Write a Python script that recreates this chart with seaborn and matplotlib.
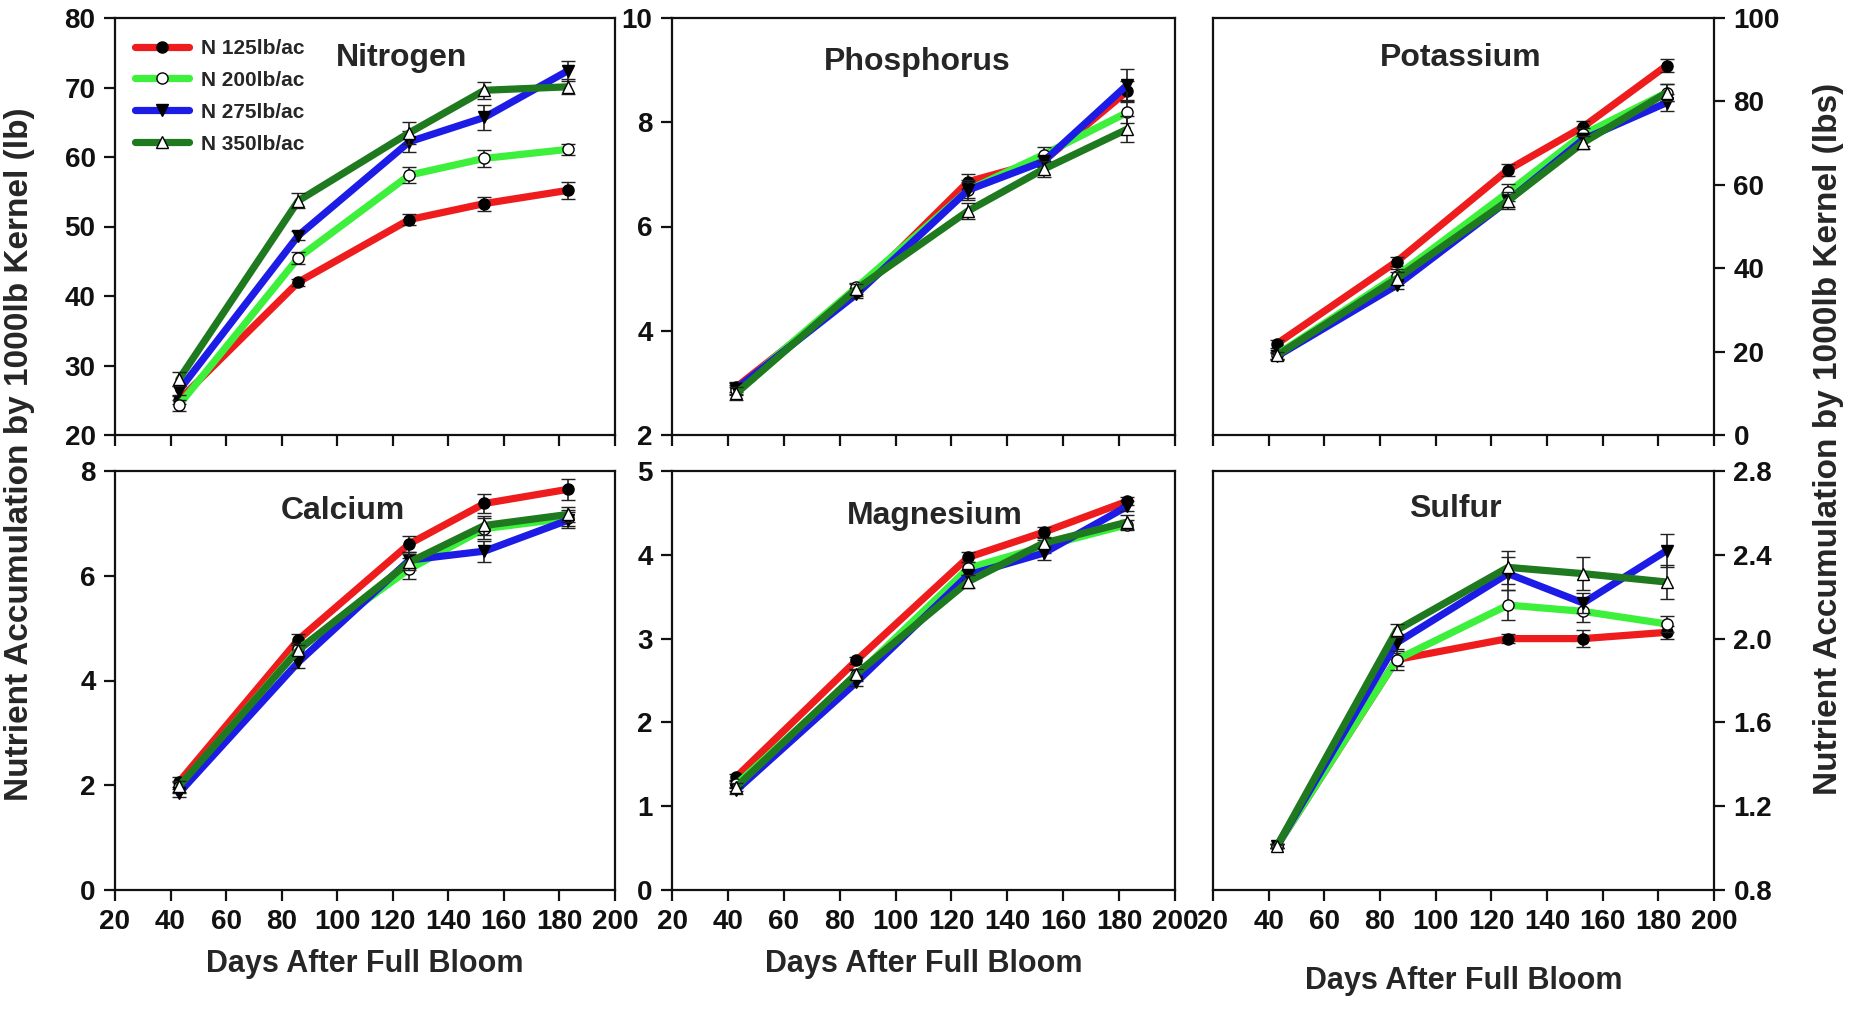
import numpy as np
import pandas as pd
import matplotlib
matplotlib.use("Agg")
import matplotlib.pyplot as plt
import seaborn as sns
from matplotlib.lines import Line2D

sns.set_style("white")
plt.rcParams['font.family'] = ['Liberation Sans', 'DejaVu Sans']
plt.rcParams['font.weight'] = 'bold'

days = [43, 86, 126, 153, 183]
rates = ['N 125lb/ac', 'N 200lb/ac', 'N 275lb/ac', 'N 350lb/ac']
colors = ['#ee1c1c', '#3cf03c', '#1c1ce6', '#1f7a1f']
markers = ['o', 'o', 'v', '^']
marker_faces = ['black', 'white', 'black', 'white']

nitrogen = [[25.0, 42.0, 51.0, 53.3, 55.2],
            [24.3, 45.5, 57.4, 59.8, 61.1],
            [26.4, 48.7, 62.2, 65.7, 72.4],
            [28.0, 53.7, 63.5, 69.6, 70.1]]
nitrogen_se = [[0.6, 0.5, 0.8, 1.0, 1.2],
               [0.8, 0.9, 1.2, 1.2, 0.8],
               [0.6, 0.7, 1.5, 1.8, 1.4],
               [1.0, 1.1, 1.6, 1.2, 1.1]]

phosphorus = [[2.92, 4.74, 6.86, 7.26, 8.60],
              [2.86, 4.83, 6.70, 7.38, 8.19],
              [2.89, 4.70, 6.70, 7.25, 8.72],
              [2.80, 4.80, 6.30, 7.10, 7.87]]
phosphorus_se = [[0.1, 0.08, 0.15, 0.10, 0.20],
                 [0.1, 0.08, 0.15, 0.15, 0.20],
                 [0.1, 0.08, 0.20, 0.10, 0.30],
                 [0.12, 0.10, 0.15, 0.15, 0.25]]

potassium = [[21.9, 41.6, 63.6, 73.9, 88.6],
             [19.3, 38.2, 58.2, 72.1, 82.1],
             [18.9, 35.9, 56.2, 70.9, 79.7],
             [19.1, 37.5, 56.2, 70.1, 82.1]]
potassium_se = [[1.0, 1.0, 1.5, 1.5, 1.5],
                [1.0, 1.5, 2.0, 1.5, 2.0],
                [0.8, 1.0, 1.5, 1.5, 2.0],
                [0.8, 1.5, 2.0, 1.5, 2.0]]

calcium = [[2.06, 4.78, 6.61, 7.38, 7.65],
           [1.96, 4.60, 6.13, 6.90, 7.10],
           [1.85, 4.35, 6.30, 6.47, 7.06],
           [1.98, 4.58, 6.26, 6.96, 7.17]]
calcium_se = [[0.10, 0.10, 0.15, 0.18, 0.20],
              [0.10, 0.12, 0.20, 0.20, 0.15],
              [0.08, 0.12, 0.15, 0.20, 0.15],
              [0.10, 0.10, 0.15, 0.18, 0.15]]

magnesium = [[1.35, 2.74, 3.97, 4.27, 4.64],
             [1.26, 2.56, 3.84, 4.10, 4.36],
             [1.19, 2.48, 3.76, 4.02, 4.58],
             [1.23, 2.58, 3.68, 4.14, 4.39]]
magnesium_se = [[0.04, 0.04, 0.06, 0.06, 0.05],
                [0.04, 0.06, 0.08, 0.08, 0.06],
                [0.04, 0.05, 0.06, 0.08, 0.06],
                [0.05, 0.06, 0.08, 0.06, 0.08]]

sulfur = [[1.01, 1.90, 2.00, 2.00, 2.03],
          [1.01, 1.90, 2.16, 2.13, 2.07],
          [1.01, 1.98, 2.31, 2.17, 2.42],
          [1.01, 2.04, 2.34, 2.31, 2.27]]
sulfur_se = [[0.01, 0.03, 0.02, 0.04, 0.03],
             [0.01, 0.05, 0.07, 0.05, 0.04],
             [0.01, 0.04, 0.08, 0.05, 0.08],
             [0.01, 0.03, 0.08, 0.08, 0.08]]

names = ['Nitrogen', 'Phosphorus', 'Potassium', 'Calcium', 'Magnesium', 'Sulfur']
means = [nitrogen, phosphorus, potassium, calcium, magnesium, sulfur]
ses = [nitrogen_se, phosphorus_se, potassium_se, calcium_se, magnesium_se, sulfur_se]
yticks = [np.arange(20, 81, 10), np.arange(2, 11, 2), np.arange(0, 101, 20),
          np.arange(0, 9, 2), np.arange(0, 6, 1), np.arange(0.8, 2.81, 0.4)]
title_pos = [(0.574, 0.905), (0.487, 0.895), (0.495, 0.905),
             (0.456, 0.905), (0.522, 0.893), (0.483, 0.91)]

W, H = 1855, 1009
fig = plt.figure(figsize=(W / 100, H / 100), dpi=100)
col_left = [115, 672, 1213]
col_w = [500, 503, 501]
row_top = [18, 471]
row_bot = [435, 890]

for k in range(6):
    r, c = k // 3, k % 3
    ax = fig.add_axes([col_left[c] / W, 1 - row_bot[r] / H,
                       col_w[c] / W, (row_bot[r] - row_top[r]) / H])
    for i in range(4):
        df = pd.DataFrame({'day': days, 'val': means[k][i]})
        sns.lineplot(data=df, x='day', y='val', color=colors[i], lw=5.2, ax=ax,
                     zorder=2 + i)
        ax.errorbar(days, means[k][i], yerr=ses[k][i], fmt=markers[i], ms=8,
                    mfc=marker_faces[i], mec='black', mew=1, ecolor='#222222',
                    elinewidth=1.2, capsize=5, capthick=1.2, zorder=2.5 + i)
    ax.set_xlim(20, 200)
    ax.set_xticks(np.arange(20, 201, 20))
    ax.set_ylim(yticks[k][0], yticks[k][-1])
    ax.set_yticks(yticks[k])
    if k == 5:
        ax.set_yticklabels(['%.1f' % v for v in yticks[k]])
    else:
        ax.set_yticklabels(['%d' % v for v in yticks[k]])
    ax.set_xlabel('')
    ax.set_ylabel('')
    for s in ax.spines.values():
        s.set_linewidth(1.6)
        s.set_color('#111111')
    ax.tick_params(axis='both', direction='out', length=8, width=1.6,
                   labelsize=20, colors='#111111', pad=6)
    if c == 2:
        ax.yaxis.tick_right()
        ax.tick_params(axis='y', left=False, right=True)
    else:
        ax.tick_params(axis='y', left=True, right=False)
    ax.tick_params(axis='x', bottom=True, top=False)
    if r == 0:
        ax.tick_params(axis='x', labelbottom=False)
    else:
        ax.set_xlabel('Days After Full Bloom', fontsize=22, fontweight='bold',
                      labelpad=22 if c == 2 else 10)
    tx, ty = title_pos[k]
    ax.text(tx, ty, names[k], transform=ax.transAxes, ha='center', va='center',
            fontsize=23, fontweight='bold')
    if k == 0:
        handles = [Line2D([], [], color=colors[i], lw=5.2, marker=markers[i], ms=8,
                          mfc=marker_faces[i], mec='black') for i in range(4)]
        ax.legend(handles, rates, loc='upper left', frameon=False,
                  handlelength=2.6, labelspacing=0.62, borderaxespad=0.3,
                  handletextpad=0.6, bbox_to_anchor=(0.01, 0.985),
                  prop={'weight': 'bold', 'size': 15})

fig.text(20 / W, 0.55, 'Nutrient Accumulation by 1000lb Kernel (lb)', rotation=90,
         ha='center', va='center', fontsize=24, fontweight='bold')
fig.text(1828 / W, 0.565, 'Nutrient Accumulation by 1000lb Kernel (lbs)', rotation=90,
         ha='center', va='center', fontsize=24, fontweight='bold')

fig.savefig('out.png', dpi=100)
